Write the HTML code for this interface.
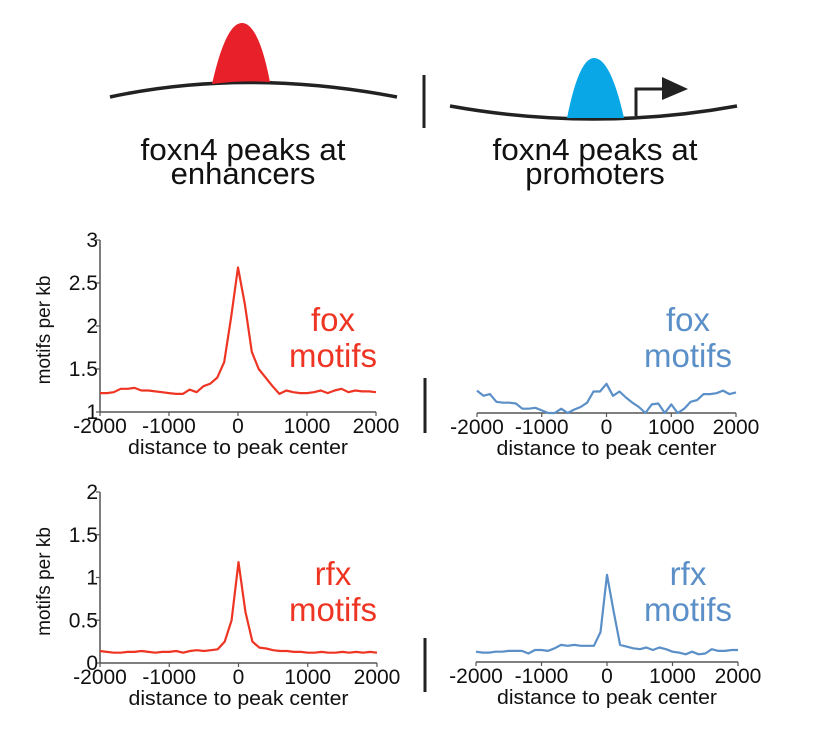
<!DOCTYPE html>
<html><head><meta charset="utf-8">
<style>
html,body{margin:0;padding:0;background:#fff;}
svg{display:block;font-family:"Liberation Sans",Arial,sans-serif;}
</style></head>
<body>
<svg id="fig" width="817" height="744" viewBox="0 0 817 744">
  <g>
    <path d="M110 97 Q245 68 397 97" fill="none" stroke="#222" stroke-width="3.5"/>
    <path d="M212 84 C222 40 232 23 242 23 C252 23 262 40 270 82 Q242 80 212 84 Z" fill="#e8202a"/>
    <line x1="424" y1="75" x2="424" y2="128" stroke="#222" stroke-width="3"/>
    <path d="M450 106 Q594 132 737 106" fill="none" stroke="#222" stroke-width="3.5"/>
    <path d="M567 118 C575 78 584 58 594 58 C605 58 615 78 624 118 Z" fill="#0aa7e6"/>
    <polyline points="636,116 636,89 666,89" fill="none" stroke="#222" stroke-width="3"/>
    <polygon points="662,77 688,89 662,100" fill="#222"/>
    <text text-anchor="middle" font-size="31" fill="#111"><tspan x="243" y="160" textLength="205" lengthAdjust="spacingAndGlyphs">foxn4 peaks at</tspan><tspan x="243" y="184">enhancers</tspan></text>
    <text text-anchor="middle" font-size="31" fill="#111"><tspan x="595" y="160" textLength="205" lengthAdjust="spacingAndGlyphs">foxn4 peaks at</tspan><tspan x="595" y="184">promoters</tspan></text>
  </g>
  <line x1="425" y1="378" x2="425" y2="433" stroke="#222" stroke-width="3"/>
  <line x1="425" y1="638" x2="425" y2="692" stroke="#222" stroke-width="3"/>
  <g id="charts"></g>
</svg>
<script>
const xTicks = [-2000, -1000, 0, 1000, 2000];
const xPositions = [-2000,-1900,-1800,-1700,-1600,-1500,-1400,-1300,-1200,-1100,-1000,-900,-800,-700,-600,-500,-400,-300,-200,-100,0,100,200,300,400,500,600,700,800,900,1000,1100,1200,1300,1400,1500,1600,1700,1800,1900,2000];
const foxYTicks = ["1","1.5","2","2.5","3"];
const foxYTickValues = [1, 1.5, 2, 2.5, 3];
const rfxYTicks = ["0","0.5","1","1.5","2"];
const rfxYTickValues = [0, 0.5, 1, 1.5, 2];
const foxEnhancer = [1.22,1.22,1.23,1.27,1.27,1.28,1.25,1.25,1.24,1.23,1.22,1.21,1.21,1.26,1.23,1.30,1.33,1.40,1.58,2.10,2.68,2.25,1.70,1.50,1.40,1.30,1.21,1.25,1.23,1.22,1.22,1.23,1.25,1.22,1.25,1.27,1.23,1.25,1.24,1.24,1.23];
const foxPromoter = [1.26,1.20,1.22,1.13,1.12,1.12,1.11,1.05,1.05,1.06,1.03,1.00,1.00,1.05,1.00,1.04,1.07,1.12,1.25,1.25,1.34,1.20,1.25,1.18,1.12,1.07,1.00,1.10,1.11,1.00,1.10,1.00,1.05,1.13,1.15,1.22,1.22,1.23,1.26,1.22,1.24];
const rfxEnhancer = [0.14,0.13,0.12,0.12,0.13,0.13,0.14,0.13,0.12,0.13,0.13,0.14,0.12,0.14,0.15,0.14,0.15,0.16,0.25,0.50,1.18,0.60,0.25,0.18,0.17,0.15,0.14,0.14,0.13,0.13,0.12,0.12,0.13,0.12,0.12,0.13,0.12,0.13,0.12,0.13,0.12];
const rfxPromoter = [0.12,0.11,0.11,0.12,0.12,0.13,0.13,0.13,0.10,0.14,0.14,0.13,0.16,0.20,0.19,0.20,0.19,0.19,0.19,0.35,1.02,0.60,0.20,0.18,0.16,0.15,0.17,0.14,0.17,0.15,0.12,0.11,0.09,0.12,0.09,0.10,0.15,0.13,0.13,0.14,0.14];

const NS = "http://www.w3.org/2000/svg";
const root = document.getElementById('charts');
function mk(tag, attrs, parent){ const e=document.createElementNS(NS,tag); for(const k in attrs) e.setAttribute(k,attrs[k]); (parent||root).appendChild(e); return e; }

function chart(o){
  const g = mk('g', {});
  
  
  const xs = v => o.x0 + (v + 2000) / 4000 * (o.x1 - o.x0);
  const ys = v => o.y0 - (v - o.ymin) / (o.ymax - o.ymin) * (o.y0 - o.y1);
  const xa = mk('line', {x1:o.x0, x2:o.x1, y1:o.y0, y2:o.y0, stroke:'#555', 'stroke-width':1.5}, g);
  
  
  xTicks.forEach(t => {
    const tk = mk('line', {x1:xs(t), x2:xs(t), y1:o.y0, y2:o.y0+4, stroke:'#555','stroke-width':1.2}, g);
    
    
    const tl = mk('text', {x:xs(t), y:o.y0+21, 'text-anchor':'middle', 'font-size':21, fill:'#111'}, g);
    tl.textContent = t;
    
    
  });
  const xt = mk('text', {x:(o.x0+o.x1)/2, y:o.y0+42, 'text-anchor':'middle', 'font-size':20, fill:'#111', textLength:220, lengthAdjust:'spacingAndGlyphs'}, g);
  xt.textContent = 'distance to peak center';
  
  
  if (o.yaxis){
    const ya = mk('line', {x1:o.x0, x2:o.x0, y1:o.y0, y2:o.y1, stroke:'#555','stroke-width':1.5}, g);
    
    
    o.yTickValues.forEach((v,i) => {
      const tk = mk('line', {x1:o.x0-4, x2:o.x0, y1:ys(v), y2:ys(v), stroke:'#555','stroke-width':1.2}, g);
      
      
      const tl = mk('text', {x:o.x0-2, y:ys(v)+7, 'text-anchor':'end', 'font-size':21, fill:'#111'}, g);
      tl.textContent = o.yTicks[i];
      
      
    });
    const yt = mk('text', {x:0, y:0, 'text-anchor':'middle', 'font-size':19, fill:'#111', transform:'translate(50,'+((o.y0+o.y1)/2+4)+') rotate(-90)'}, g);
    yt.textContent = 'motifs per kb';
    
    
  }
  const pts = o.data.map((v,i) => xs(xPositions[i]).toFixed(1) + ',' + ys(Math.max(v,o.ymin)).toFixed(1)).join(' ');
  const ln = mk('polyline', {points:pts, fill:'none', stroke:o.color, 'stroke-width':2.2, 'stroke-linejoin':'round'}, g);
  
  
  const lab = mk('text', {'text-anchor':'middle', 'font-size':33, fill:o.color}, g);
  
  
  const t1 = mk('tspan', {x:o.lx, y:o.ly}, lab); t1.textContent = o.label;
  const t2 = mk('tspan', {x:o.lx, y:o.ly+36}, lab); t2.textContent = 'motifs';
}

chart({name:'fox-enhancer-chart', x0:100, x1:376, y0:412, y1:240, ymin:1, ymax:3, yaxis:true, yTicks:foxYTicks, yTickValues:foxYTickValues, data:foxEnhancer, color:'#ee3524', label:'fox', lx:333, ly:331});
chart({name:'fox-promoter-chart', x0:477, x1:736, y0:413, y1:241, ymin:1, ymax:3, yaxis:false, data:foxPromoter, color:'#5b8fc7', label:'fox', lx:688, ly:331});
chart({name:'rfx-enhancer-chart', x0:100, x1:377, y0:663, y1:492, ymin:0, ymax:2, yaxis:true, yTicks:rfxYTicks, yTickValues:rfxYTickValues, data:rfxEnhancer, color:'#ee3524', label:'rfx', lx:333, ly:585});
chart({name:'rfx-promoter-chart', x0:476, x1:738, y0:662, y1:491, ymin:0, ymax:2, yaxis:false, data:rfxPromoter, color:'#5b8fc7', label:'rfx', lx:688, ly:585});
</script>
</body></html>
